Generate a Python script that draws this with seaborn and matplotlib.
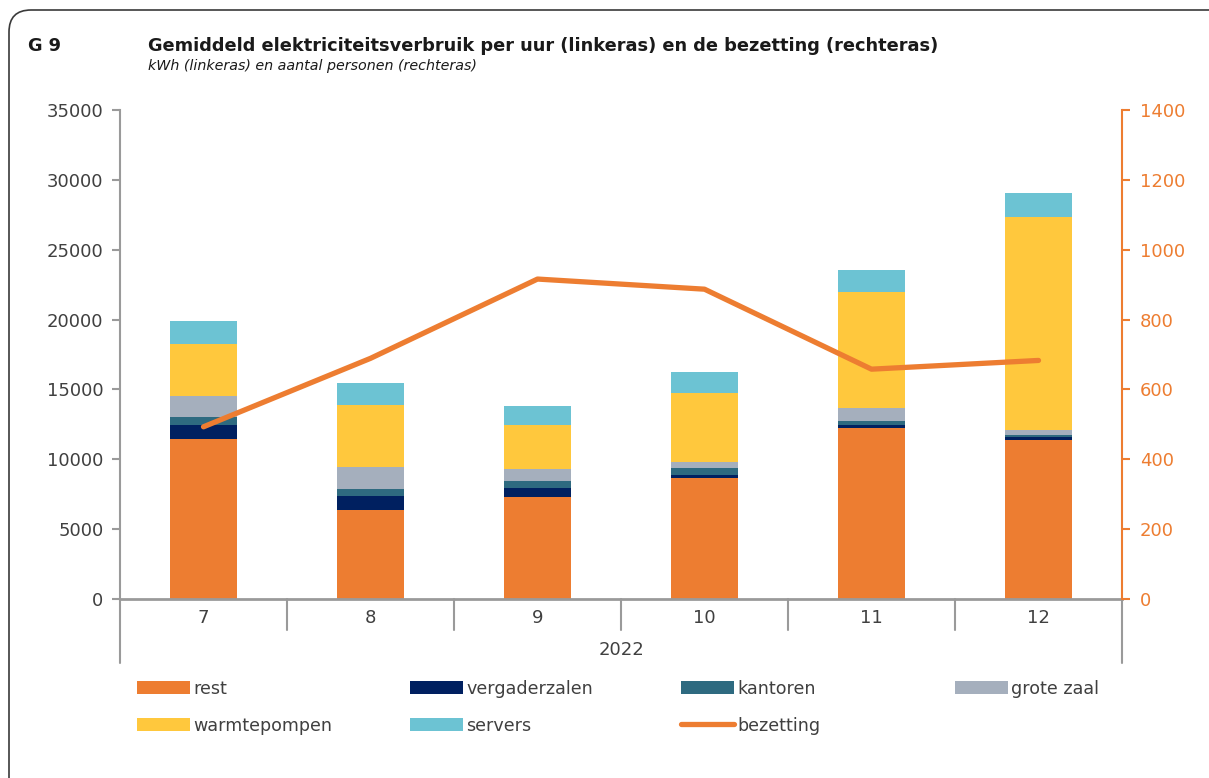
import numpy as np
import pandas as pd
import matplotlib
matplotlib.use("Agg")
import matplotlib.pyplot as plt
import seaborn as sns
from matplotlib.patches import Patch, FancyBboxPatch
from matplotlib.lines import Line2D
import matplotlib.transforms as mtransforms

months = ["7", "8", "9", "10", "11", "12"]
year = "2022"
rest = [11430, 6370, 7280, 8660, 12260, 11400]
vergaderzalen = [1050, 1025, 690, 215, 215, 215]
kantoren = [530, 500, 480, 500, 285, 120]
grote_zaal = [1520, 1530, 860, 450, 930, 380]
warmtepompen = [3720, 4440, 3150, 4920, 8260, 15200]
servers = [1650, 1620, 1360, 1500, 1600, 1740]
bezetting = [493, 689, 916, 887, 658, 683]

layers = ["rest", "vergaderzalen", "kantoren", "grote zaal", "warmtepompen", "servers"]
colors = {
    "rest": "#ED7D31",
    "vergaderzalen": "#002060",
    "kantoren": "#2E6A80",
    "grote zaal": "#A5AFBD",
    "warmtepompen": "#FFC83D",
    "servers": "#6CC3D3",
}
line_color = "#ED7D31"
grey = "#9A9A9A"
text_col = "#404040"

df = pd.DataFrame({
    "rest": rest,
    "vergaderzalen": vergaderzalen,
    "kantoren": kantoren,
    "grote zaal": grote_zaal,
    "warmtepompen": warmtepompen,
    "servers": servers,
}, index=months)
cum = df[layers].cumsum(axis=1)

sns.set_style("white")
plt.rcParams["font.family"] = ["DejaVu Sans"]

fig = plt.figure(figsize=(12.09, 7.78), dpi=100)
ax = fig.add_axes([120 / 1209, 1 - 599 / 778, 1002 / 1209, 489 / 778])

# stacked bars: draw cumulative totals from the top layer down
for layer in reversed(layers):
    sns.barplot(x=months, y=cum[layer].values, order=months, color=colors[layer],
                saturation=1, width=0.4, linewidth=0, ax=ax)

ax.set_xlim(-0.5, 5.5)
ax.set_ylim(0, 35000)
ax.set_yticks(np.arange(0, 35001, 5000))
ax.set_xlabel("")
ax.set_ylabel("")
ax.tick_params(axis="y", colors=grey, labelcolor=text_col, labelsize=13,
               length=6, width=1.5, direction="out", pad=6, left=True)
ax.tick_params(axis="x", length=0, labelsize=13, labelcolor=text_col, pad=7)
for s in ["top", "right"]:
    ax.spines[s].set_visible(False)
ax.spines["left"].set_color(grey)
ax.spines["left"].set_linewidth(1.5)
ax.spines["bottom"].set_color(grey)
ax.spines["bottom"].set_linewidth(2)

# category separators below axis
trans = mtransforms.blended_transform_factory(ax.transData, ax.transAxes)
for xb in np.arange(0.5, 5.0, 1.0):
    ax.plot([xb, xb], [0, -0.064], transform=trans, color=grey, lw=1.5, clip_on=False)
for xb in [-0.5, 5.5]:
    ax.plot([xb, xb], [0, -0.131], transform=trans, color=grey, lw=1.5, clip_on=False)
ax.text(0.5, -0.104, year, transform=ax.transAxes, ha="center", va="center",
        fontsize=13, color=text_col)

ax2 = ax.twinx()
sns.lineplot(x=np.arange(len(months)), y=bezetting, color=line_color, lw=3.8,
             solid_capstyle="round", ax=ax2)
ax2.set_ylim(0, 1400)
ax2.set_yticks(np.arange(0, 1401, 200))
ax2.set_xlim(-0.5, 5.5)
ax2.grid(False)
for s in ["top", "left", "bottom"]:
    ax2.spines[s].set_visible(False)
ax2.spines["right"].set_color(line_color)
ax2.spines["right"].set_linewidth(1.5)
ax2.tick_params(axis="y", colors=line_color, labelsize=13, length=6, width=1.5,
                direction="out", pad=7, right=True)

# titles
fig.text(28 / 1209, 1 - 46 / 778, "G 9", fontsize=12.8, fontweight="bold",
         color="#1a1a1a", va="center", ha="left")
fig.text(148 / 1209, 1 - 46 / 778,
         "Gemiddeld elektriciteitsverbruik per uur (linkeras) en de bezetting (rechteras)",
         fontsize=12.8, fontweight="bold", color="#1a1a1a", va="center", ha="left")
fig.text(148 / 1209, 1 - 66 / 778, "kWh (linkeras) en aantal personen (rechteras)",
         fontsize=10.3, style="italic", color="#1a1a1a", va="center", ha="left")

# legend in four columns
handles = {l: Patch(facecolor=colors[l], edgecolor="none") for l in layers}
handles["bezetting"] = Line2D([], [], color=line_color, lw=3.8, solid_capstyle="round")
columns = [
    (137, ["rest", "warmtepompen"]),
    (410, ["vergaderzalen", "servers"]),
    (681, ["kantoren", "bezetting"]),
    (955, ["grote zaal"]),
]
for xpx, names in columns:
    fig.legend([handles[n] for n in names], names, loc="upper left",
               bbox_to_anchor=(xpx / 1209, 1 - 680 / 778), frameon=False,
               fontsize=12.6, handlelength=3.0, handleheight=0.75, handletextpad=0.2,
               borderpad=0, borderaxespad=0, labelspacing=1.07, labelcolor=text_col)

frame = FancyBboxPatch((9, -60), 1320, 768 + 60, boxstyle="round,pad=0,rounding_size=22",
                       transform=None, facecolor="none", edgecolor="#3a3a3a", lw=1.2)
fig.patches.append(frame)

fig.savefig("out.png", dpi=100)
